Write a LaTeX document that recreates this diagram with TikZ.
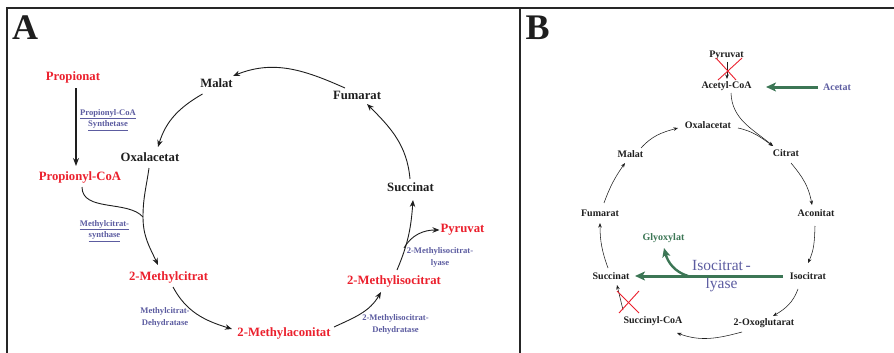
\documentclass[tikz,border=0pt]{standalone}
\usepackage{fontspec}
\setmainfont{Liberation Serif}
\usetikzlibrary{arrows.meta}
\definecolor{redA}{RGB}{235,32,45}
\definecolor{enz}{RGB}{92,92,160}
\definecolor{grn}{RGB}{60,118,85}
\definecolor{txt}{RGB}{30,30,30}
\begin{document}
\begin{tikzpicture}[x=1pt,y=-1pt,
  frame/.style={draw=black!85,line width=1.4pt},
  big/.style={font=\fontsize{36}{40}\selectfont\bfseries,inner sep=0pt,text=txt},
  lblA/.style={font=\fontsize{12.7}{14}\selectfont\bfseries,inner sep=0pt,text=txt},
  redlbl/.style={lblA,text=redA},
  enzA/.style={font=\fontsize{8.6}{11.5}\selectfont\bfseries,text=enz,align=center,inner sep=0pt},
  lblB/.style={font=\fontsize{10}{12}\selectfont\bfseries,inner sep=0pt,text=txt},
  arrA/.style={draw=txt,line width=0.9pt,-{Stealth[length=7pt,width=5.5pt]}},
  lineA/.style={draw=txt,line width=0.9pt},
  arrB/.style={draw=txt,line width=0.55pt,-{Stealth[length=4.5pt,width=3.5pt]}},
  garr/.style={draw=grn,line width=3pt,-{Stealth[length=10pt,width=9pt,inset=2.5pt]}},
  garrs/.style={draw=grn,line width=2.4pt,-{Stealth[length=9pt,width=8pt,inset=2pt]}},
  cross/.style={draw=redA,line width=0.9pt}
]
\useasboundingbox (0,0) rectangle (894,353);
\draw[frame] (7,353) -- (7,8) -- (894,8);
\draw[frame] (520,8) -- (520,353);

% ---------------- Panel A ----------------
\node[big] (labA) at (25,27.5) {A};
\node[redlbl] (propionat) at (73,77) {Propionat};
\node[lblA] (malat) at (216.5,83) {Malat};
\node[lblA] (fumarat) at (357,95) {Fumarat};
\node[lblA] (oxal) at (150,157) {Oxalacetat};
\node[redlbl] (propcoa) at (80,177) {Propionyl-CoA};
\node[lblA] (succ) at (410.5,187) {Succinat};
\node[redlbl] (mcit) at (168.5,277) {2-Methylcitrat};
\node[redlbl] (maco) at (284,333) {2-Methylaconitat};
\node[redlbl] (misocit) at (394,281) {2-Methylisocitrat};
\node[redlbl] (pyr) at (462.5,230) {Pyruvat};

\node[enzA] (enz1) at (108,120) {\underline{Propionyl-CoA}\\\underline{Synthetase}};
\node[enzA] (enz2) at (104.5,231) {\underline{Methylcitrat-}\\\underline{synthase}};
\node[enzA] (enz3) at (165,317.5) {Methylcitrat-\\Dehydratase};
\node[enzA] (enz4) at (395.5,324.5) {2-Methylisocitrat-\\Dehydratase};
\node[enzA] (enz5) at (440,257.5) {2-Methylisocitrat-\\lyase};

\coordinate (join) at (143,217);
\coordinate (br) at (404,248);

\draw[draw=txt,line width=1.6pt,-{Stealth[length=8pt,width=6pt]}]
  ([shift={(3,11)}]propionat.center) -- ([shift={(-4,-11)}]propcoa.center);
\draw[arrA] ([shift={(-14,11)}]malat.center) to[out=-150,in=73] ([shift={(8,-10)}]oxal.center);
\draw[arrA] ([shift={(-12,-7)}]fumarat.center) to[out=156,in=22] ([shift={(16.5,-7)}]malat.center);
\draw[arrA] ([shift={(-0.5,-8)}]succ.center) to[out=95,in=-45] ([shift={(10,9)}]fumarat.center);
\draw[arrA] ([shift={(-1,11)}]oxal.center) to[out=-98,in=90] (join) to[out=-90,in=115] ([shift={(-10.5,-12)}]mcit.center);
\draw[lineA] ([shift={(2,10)}]propcoa.center) .. controls (82,212) and (128,200) .. (join);
\draw[arrA] ([shift={(4.5,10)}]mcit.center) to[out=-62,in=163] ([shift={(-52,-4)}]maco.center);
\draw[arrA] ([shift={(50,-6)}]maco.center) to[out=25,in=-120] ([shift={(-13,11)}]misocit.center);
\draw[arrA] ([shift={(3,-11)}]misocit.center) to[out=67,in=-94] ([shift={(2.5,13)}]succ.center);
\draw[arrA] (br) to[out=60,in=180] ([shift={(-23,0)}]pyr.center);

% ---------------- Panel B ----------------
\node[big] (labB) at (537.5,27.5) {B};
\node[lblB] (pyrB) at (726.5,55) {Pyruvat};
\node[lblB] (acoa) at (726.5,86) {Acetyl-CoA};
\node[lblB,text=enz] (acetat) at (837,87) {Acetat};
\node[lblB] (oxalB) at (708,125) {Oxalacetat};
\node[lblB] (citrat) at (786,153) {Citrat};
\node[lblB] (malatB) at (630.5,154) {Malat};
\node[lblB] (aconitat) at (816,213) {Aconitat};
\node[lblB] (fumB) at (600,213) {Fumarat};
\node[lblB] (isocit) at (808,276) {Isocitrat};
\node[lblB] (succB) at (611,276) {Succinat};
\node[lblB] (oxoglu) at (764,323) {2-Oxoglutarat};
\node[lblB] (succoa) at (653,321) {Succinyl-CoA};
\node[lblB,text=grn] (glyox) at (663.5,238) {Glyoxylat};
\node[font=\fontsize{15.5}{18}\selectfont,text=enz,align=center,inner sep=0pt] (lyase) at (721.5,276.5) {Isocitrat\,-\\lyase};

\coordinate (gb) at (688,276);

\draw[arrB] ([shift={(0.5,7)}]pyrB.center) -- ([shift={(0.5,-7)}]acoa.center);
\draw[cross] (716,58) -- (736,80);
\draw[cross] (718,80) -- (742,58);
\draw[garr] ([shift={(-19,0)}]acetat.center) -- ([shift={(39.5,1)}]acoa.center);
\draw[arrB] ([shift={(4.5,7)}]acoa.center) to[out=-88,in=140] ([shift={(-13,-7)}]citrat.center);
\draw[arrB] ([shift={(30,3)}]oxalB.center) to[out=-12,in=145] ([shift={(-13,-7)}]citrat.center);
\draw[arrB] ([shift={(10.5,-6)}]malatB.center) to[out=48,in=-165] ([shift={(-30,3)}]oxalB.center);
\draw[arrB] ([shift={(5,10)}]citrat.center) to[out=-50,in=100] ([shift={(-4,-8)}]aconitat.center);
\draw[arrB] ([shift={(-1,13)}]aconitat.center) to[out=-92,in=65] ([shift={(0,-13)}]isocit.center);
\draw[arrB] ([shift={(-10,13)}]isocit.center) to[out=-110,in=30] ([shift={(9,-7)}]oxoglu.center);
\draw[arrB] ([shift={(-22,9)}]oxoglu.center) to[out=-165,in=-20] ([shift={(24,12)}]succoa.center);
\draw[arrB] ([shift={(-30,-11)}]succoa.center) -- ([shift={(6,9)}]succB.center);
\draw[cross] (617,291) -- (639,313);
\draw[cross] (619,313) -- (639,291);
\draw[arrB] ([shift={(-3,-8)}]succB.center) to[out=110,in=-90] ([shift={(0,10)}]fumB.center);
\draw[arrB] ([shift={(4,-10)}]fumB.center) to[out=70,in=-125] ([shift={(-5.5,9)}]malatB.center);
\draw[garr] ([shift={(-25,0)}]isocit.center) -- ([shift={(24,0)}]succB.center);
\draw[garrs] (gb) to[out=163,in=-75] ([shift={(0.5,10)}]glyox.center);
\end{tikzpicture}
\end{document}
